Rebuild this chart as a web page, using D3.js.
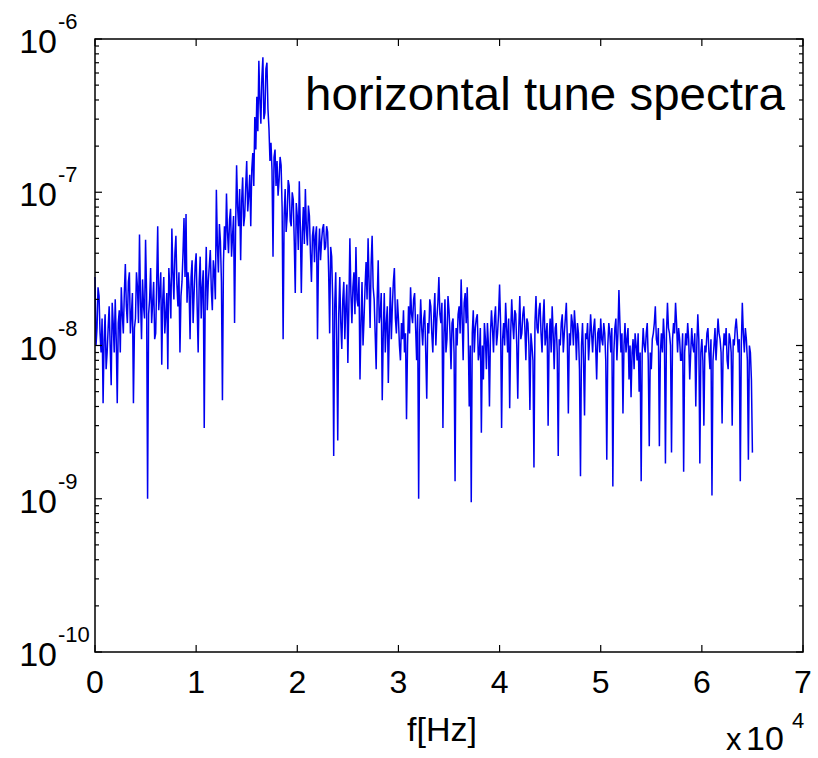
<!DOCTYPE html>
<html>
<head>
<meta charset="utf-8">
<script src="https://cdn.jsdelivr.net/npm/d3@7"></script>
<style>
  body { margin: 0; background: #fff; }
  svg { display: block; font-family: "Liberation Sans", Arial, sans-serif; }
</style>
</head>
<body>
<svg id="chart" width="818" height="758"></svg>
<script>
const freqStep = 100;
const ampNano = [
  28, 10, 13, 24, 21, 12, 9, 15, 4.2, 11, 16, 7, 9, 13, 18, 10, 5.5, 19, 14, 9,
  20, 11, 4.2, 14, 17, 9, 24, 16, 12, 22, 34, 18, 14, 26, 30, 12, 16, 22, 4.2, 13,
  15, 30, 24, 14, 53, 20, 11, 27, 18, 15, 49, 22, 1.0, 16, 20, 32, 14, 19, 26, 11,
  12, 26, 60, 17, 22, 30, 7.5, 20, 28, 12, 16, 22, 7, 32, 24, 15, 58, 30, 20, 40,
  52, 25, 18, 30, 9, 21, 26, 40, 68, 28, 72, 19, 30, 24, 11, 28, 36, 14, 22, 33,
  40, 18, 9, 26, 38, 15, 24, 31, 2.9, 22, 44, 17, 26, 33, 42, 23, 17, 36, 30, 20,
  104, 45, 30, 62, 48, 26, 4.4, 35, 60, 42, 98, 55, 40, 66, 78, 38, 52, 70, 14, 58,
  150, 80, 60, 105, 36, 88, 125, 60, 70, 110, 160, 75, 95, 130, 60, 140, 180, 110, 310, 190,
  420, 250, 720, 400, 280, 560, 760, 300, 330, 640, 700, 350, 260, 160, 210, 140, 38, 170, 190, 110,
  160, 95, 120, 170, 150, 80, 11, 70, 105, 55, 70, 120, 110, 65, 60, 100, 90, 48, 22, 85,
  70, 42, 118, 60, 22, 55, 80, 46, 105, 58, 45, 82, 70, 40, 26, 52, 60, 35, 52, 60,
  11, 40, 58, 36, 48, 58, 62, 42, 44, 60, 55, 30, 12, 44, 38, 20, 1.9, 18, 30, 11,
  2.4, 16, 28, 14, 9.5, 20, 26, 11, 18, 25, 7.7, 18, 50, 22, 14, 24, 30, 16, 44, 20,
  18, 28, 6, 14, 26, 10, 15, 24, 35, 20, 50, 26, 13, 34, 52, 24, 20, 12, 7, 20,
  36, 14, 16, 22, 4.4, 12, 22, 9, 14, 18, 5.7, 13, 24, 11, 18, 26, 32, 15, 12, 20,
  15, 10, 8, 14, 11, 17, 9, 12, 3.3, 10, 18, 12, 24, 16, 14, 20, 22, 13, 8, 16,
  1.0, 12, 20, 13, 10, 15, 17, 9, 4.5, 14, 12, 20, 18, 12, 9, 16, 22, 10, 15, 19,
  28, 16, 14, 19, 2.9, 12, 20, 9, 11, 21, 17, 12, 7, 14, 15, 9, 1.3, 13, 10, 16,
  18, 12, 27, 15, 8, 19, 22, 14, 24, 12, 4, 10, 0.95, 12, 17, 9, 13, 15, 16, 8,
  9, 13, 2.7, 10, 6, 14, 11, 7, 14, 10, 4, 12, 17, 13, 9, 15, 18, 10, 12, 16,
  25, 14, 2.9, 11, 14, 10, 19, 13, 9, 15, 3.9, 12, 20, 14, 11, 17, 16, 10, 4.5, 13,
  21, 11, 12, 16, 18, 13, 8, 15, 14, 10, 3.8, 12, 10, 8, 1.6, 14, 21, 13, 12, 17,
  19, 12, 9, 15, 20, 10, 12, 14, 3, 11, 15, 9, 18, 12, 7, 13, 14, 9, 1.9, 11,
  10, 14, 16, 9, 12, 15, 19, 11, 3.6, 12, 10, 16, 14, 10, 17, 13, 8, 14, 12, 7,
  1.4, 10, 14, 8, 3.5, 12, 11, 14, 8, 11, 16, 12, 9, 13, 15, 10, 6, 12, 13, 9,
  15, 11, 10, 14, 12, 8, 1.8, 10, 14, 12, 9, 13, 1.2, 9, 13, 15, 8, 12, 23, 14,
  9, 12, 3.6, 10, 14, 9, 11, 13, 6, 10, 4.6, 9, 11, 7, 12, 10, 8, 12, 5, 9,
  1.3, 9, 13, 10, 9, 12, 14, 8, 2.2, 9, 7, 11, 12, 14, 18, 11, 10, 13, 2.2, 9,
  12, 9, 15, 11, 1.7, 12, 19, 13, 12, 10, 2, 11, 14, 12, 19, 14, 9, 13, 11, 8,
  8, 12, 1.5, 9, 12, 10, 14, 11, 6, 9, 13, 10, 9, 12, 4, 10, 16, 11, 1.7, 9,
  11, 8, 3, 10, 9, 12, 13, 9, 7, 11, 1.05, 8, 10, 13, 8, 11, 15, 12, 11, 9,
  3.1, 9, 12, 10, 13, 8, 7, 12, 11, 9, 3, 11, 10, 13, 15, 12, 9, 11, 1.3, 10,
  19, 12, 9, 13, 11, 8, 1.8, 10, 9, 6, 2
];
const xTickLabels = ["0", "1", "2", "3", "4", "5", "6", "7"];
const yExponents = [-10, -9, -8, -7, -6];
const titleText = "horizontal tune spectra";
const xLabelText = "f[Hz]";
const xScaleExp = "4";

const svg = d3.select("#chart"),
  margin = {top: 39, right: 15, bottom: 106, left: 95},
  width = +svg.attr("width") - margin.left - margin.right,
  height = +svg.attr("height") - margin.top - margin.bottom,
  g = svg.append("g").attr("transform", "translate(" + margin.left + "," + margin.top + ")");

const x = d3.scaleLinear()
  .domain([0, 70000])
  .range([0, width]);

const y = d3.scaleLog()
  .domain([1e-10, 1e-6])
  .range([height, 0]);

const data = ampNano.map((v, i) => ({f: i * freqStep, a: v * 1e-9}));

const line = d3.line()
  .x(d => x(d.f))
  .y(d => y(d.a));

g.append("path")
  .datum(data)
  .attr("fill", "none")
  .attr("stroke", "#0000f0")
  .attr("stroke-width", 1.5)
  .attr("d", line);

// frame
g.append("rect")
  .attr("width", width)
  .attr("height", height)
  .attr("fill", "none")
  .attr("stroke", "#000")
  .attr("stroke-width", 1.5);

// x ticks, top and bottom, pointing in
const xVals = xTickLabels.map((t, i) => i * 10000);
g.selectAll(".xtick-b").data(xVals).enter().append("line")
  .attr("x1", d => x(d)).attr("x2", d => x(d))
  .attr("y1", height).attr("y2", height - 7)
  .attr("stroke", "#000").attr("stroke-width", 1.2);
g.selectAll(".xtick-t").data(xVals).enter().append("line")
  .attr("x1", d => x(d)).attr("x2", d => x(d))
  .attr("y1", 0).attr("y2", 7)
  .attr("stroke", "#000").attr("stroke-width", 1.2);

// y ticks, major and minor, left and right
const yTicks = y.ticks();
const isMajor = d => Math.abs(Math.log10(d) - Math.round(Math.log10(d))) < 1e-6;
[0, width].forEach(side => {
  const dir = side === 0 ? 1 : -1;
  g.selectAll(null).data(yTicks).enter().append("line")
    .attr("x1", side)
    .attr("x2", d => side + dir * (isMajor(d) ? 7 : 4))
    .attr("y1", d => y(d)).attr("y2", d => y(d))
    .attr("stroke", "#000").attr("stroke-width", 1.2);
});

// x tick labels
g.selectAll(".xlab").data(xTickLabels).enter().append("text")
  .attr("x", (d, i) => x(xVals[i]))
  .attr("y", height + 41)
  .attr("text-anchor", "middle")
  .attr("font-size", 32)
  .text(d => d);

// y tick labels: 10 with superscript exponent
const ylab = g.selectAll(".ylab").data(yExponents).enter().append("g")
  .attr("transform", d => "translate(0," + y(Math.pow(10, d)) + ")");
ylab.append("text")
  .attr("x", -38)
  .attr("y", 14)
  .attr("text-anchor", "end")
  .attr("font-size", 34)
  .text("10");
ylab.append("text")
  .attr("x", -37)
  .attr("y", -10)
  .attr("font-size", 22)
  .text(d => String(d));

// axis label and multiplier
svg.append("text")
  .attr("x", 442)
  .attr("y", 741)
  .attr("text-anchor", "middle")
  .attr("font-size", 34)
  .text(xLabelText);
svg.append("text")
  .attr("x", 726)
  .attr("y", 750)
  .attr("font-size", 31)
  .text("x");
svg.append("text")
  .attr("x", 746)
  .attr("y", 750)
  .attr("font-size", 34)
  .text("10");
svg.append("text")
  .attr("x", 792)
  .attr("y", 728)
  .attr("font-size", 22)
  .text(xScaleExp);

// title inside the plot
svg.append("text")
  .attr("x", 305)
  .attr("y", 110)
  .attr("font-size", 46)
  .attr("textLength", 480)
  .attr("lengthAdjust", "spacingAndGlyphs")
  .text(titleText);
</script>
</body>
</html>
